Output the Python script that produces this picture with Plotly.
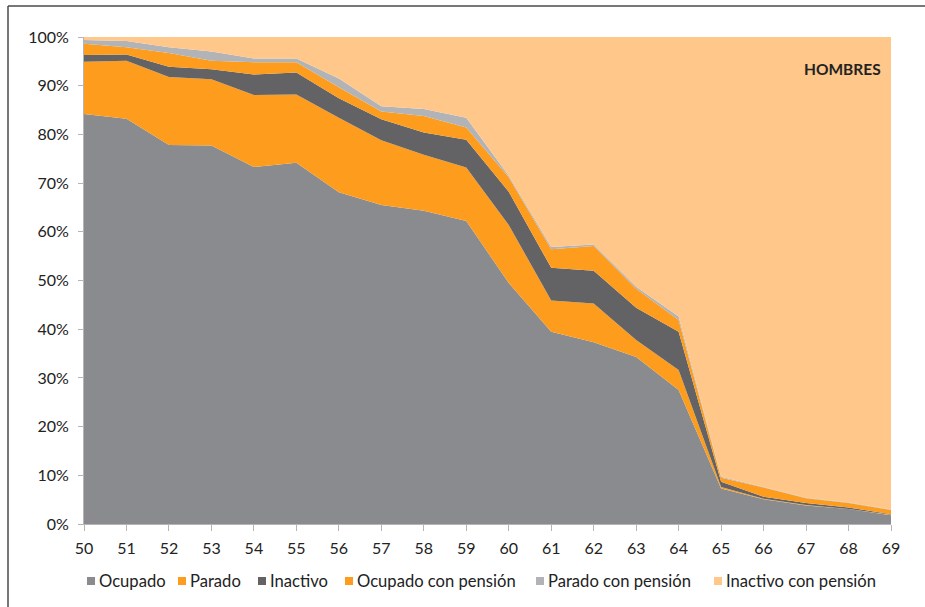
import plotly.graph_objects as go

edades = list(range(50, 70))

ocupado = [84.2, 83.2, 77.8, 77.7, 73.3, 74.2, 68.1, 65.5, 64.3, 62.2, 49.5, 39.5, 37.3, 34.3, 27.5, 7.3, 5.1, 3.8, 3.1, 1.8]
parado = [10.7, 11.9, 14.0, 13.6, 14.8, 14.0, 15.3, 13.3, 11.5, 11.0, 11.9, 6.4, 8.0, 3.5, 4.1, 0.3, 0.1, 0.1, 0.0, 0.1]
inactivo = [1.4, 1.3, 2.1, 2.1, 4.2, 4.5, 4.0, 4.3, 4.6, 5.7, 6.8, 6.7, 6.7, 6.6, 7.9, 1.1, 0.4, 0.4, 0.3, 0.1]
ocupado_pension = [2.3, 1.5, 2.8, 1.7, 2.5, 2.1, 2.3, 1.6, 3.4, 2.5, 3.0, 3.8, 5.1, 3.9, 2.4, 0.8, 1.9, 1.0, 0.9, 0.9]
parado_pension = [0.8, 1.3, 1.2, 1.9, 0.8, 0.8, 1.8, 1.1, 1.4, 2.0, 0.3, 0.5, 0.3, 0.4, 0.7, 0.2, 0.1, 0.1, 0.1, 0.1]
inactivo_pension = [0.6, 0.8, 2.1, 3.0, 4.4, 4.4, 8.5, 14.2, 14.8, 16.6, 28.5, 43.1, 42.6, 51.3, 57.4, 90.3, 92.4, 94.6, 95.6, 97.0]

y_ticks = list(range(0, 101, 10))
y_tick_labels = [f"{v}%" for v in y_ticks]

series_names = ["Ocupado", "Parado", "Inactivo", "Ocupado con pensión",
                "Parado con pensión", "Inactivo con pensión"]
series_values = [ocupado, parado, inactivo, ocupado_pension, parado_pension, inactivo_pension]
series_colors = ["#8A8B8F", "#FD9C1D", "#636366", "#FD9C1D", "#B2B3B7", "#FFC78A"]

FONT = "Lato"
W, H = 925, 607
L, R, T, B = 84, 34, 37, 83
PW, PH = W - L - R, H - T - B


def px_x(p):
    return (p - L) / PW


def px_y(p):
    return (H - B - p) / PH


fig = go.Figure()
for name, vals, color in zip(series_names, series_values, series_colors):
    fig.add_trace(go.Scatter(
        x=edades, y=vals, name=name, mode="lines",
        stackgroup="one", line=dict(width=0, color=color),
        fillcolor=color, showlegend=False,
    ))

# manual legend (small squares + text), laid out as in the reference
legend_square_left = [87, 178, 258, 345, 536, 714]
legend_y = 581
shapes = []
annotations = []
for name, color, sx in zip(series_names, series_colors, legend_square_left):
    shapes.append(dict(type="rect", xref="paper", yref="paper",
                       x0=px_x(sx), x1=px_x(sx + 8), y0=px_y(legend_y + 4), y1=px_y(legend_y - 4),
                       fillcolor=color, line=dict(width=0)))
    annotations.append(dict(text=name, xref="paper", yref="paper",
                            x=px_x(sx + 10), y=px_y(legend_y), xanchor="left", yanchor="middle",
                            showarrow=False,
                            font=dict(family=FONT, size=16.6, color="#222222")))

annotations.append(dict(text="<b>HOMBRES</b>", xref="paper", yref="paper",
                        x=px_x(842), y=px_y(69), xanchor="center", yanchor="middle",
                        showarrow=False,
                        font=dict(family=FONT, size=15.5, color="#222222")))

# outer frame (left and top edges visible in the reference)
shapes.append(dict(type="line", xref="paper", yref="paper", x0=px_x(8), x1=px_x(8),
                   y0=px_y(620), y1=px_y(6), line=dict(color="#4A4A4A", width=1.5)))
shapes.append(dict(type="line", xref="paper", yref="paper", x0=px_x(8), x1=px_x(940),
                   y0=px_y(6), y1=px_y(6), line=dict(color="#4A4A4A", width=1.5)))

fig.update_layout(
    width=W, height=H,
    margin=dict(l=L, r=R, t=T, b=B, autoexpand=False),
    paper_bgcolor="white", plot_bgcolor="white",
    font=dict(family=FONT, size=15, color="#222222"),
    showlegend=False,
    xaxis=dict(range=[50, 69], tickmode="array", tickvals=edades,
               ticktext=[str(e) for e in edades], automargin=False,
               showgrid=False, zeroline=False, showline=True, linecolor="#B5B5B5",
               ticks="outside", ticklen=6, tickcolor="#B5B5B5", ticklabelstandoff=4,
               tickfont=dict(family=FONT, size=16, color="#222222")),
    yaxis=dict(range=[0, 100], tickmode="array", tickvals=y_ticks, ticktext=y_tick_labels,
               automargin=False,
               showgrid=False, zeroline=False, showline=True, linecolor="#B5B5B5",
               ticks="outside", ticklen=5, tickcolor="#B5B5B5", ticklabelstandoff=6,
               tickfont=dict(family=FONT, size=16, color="#222222")),
    annotations=annotations,
    shapes=shapes,
)

fig.write_html("out.html", config={"displayModeBar": False},
               post_script="document.body.style.margin='0';document.body.style.overflow='hidden';")
